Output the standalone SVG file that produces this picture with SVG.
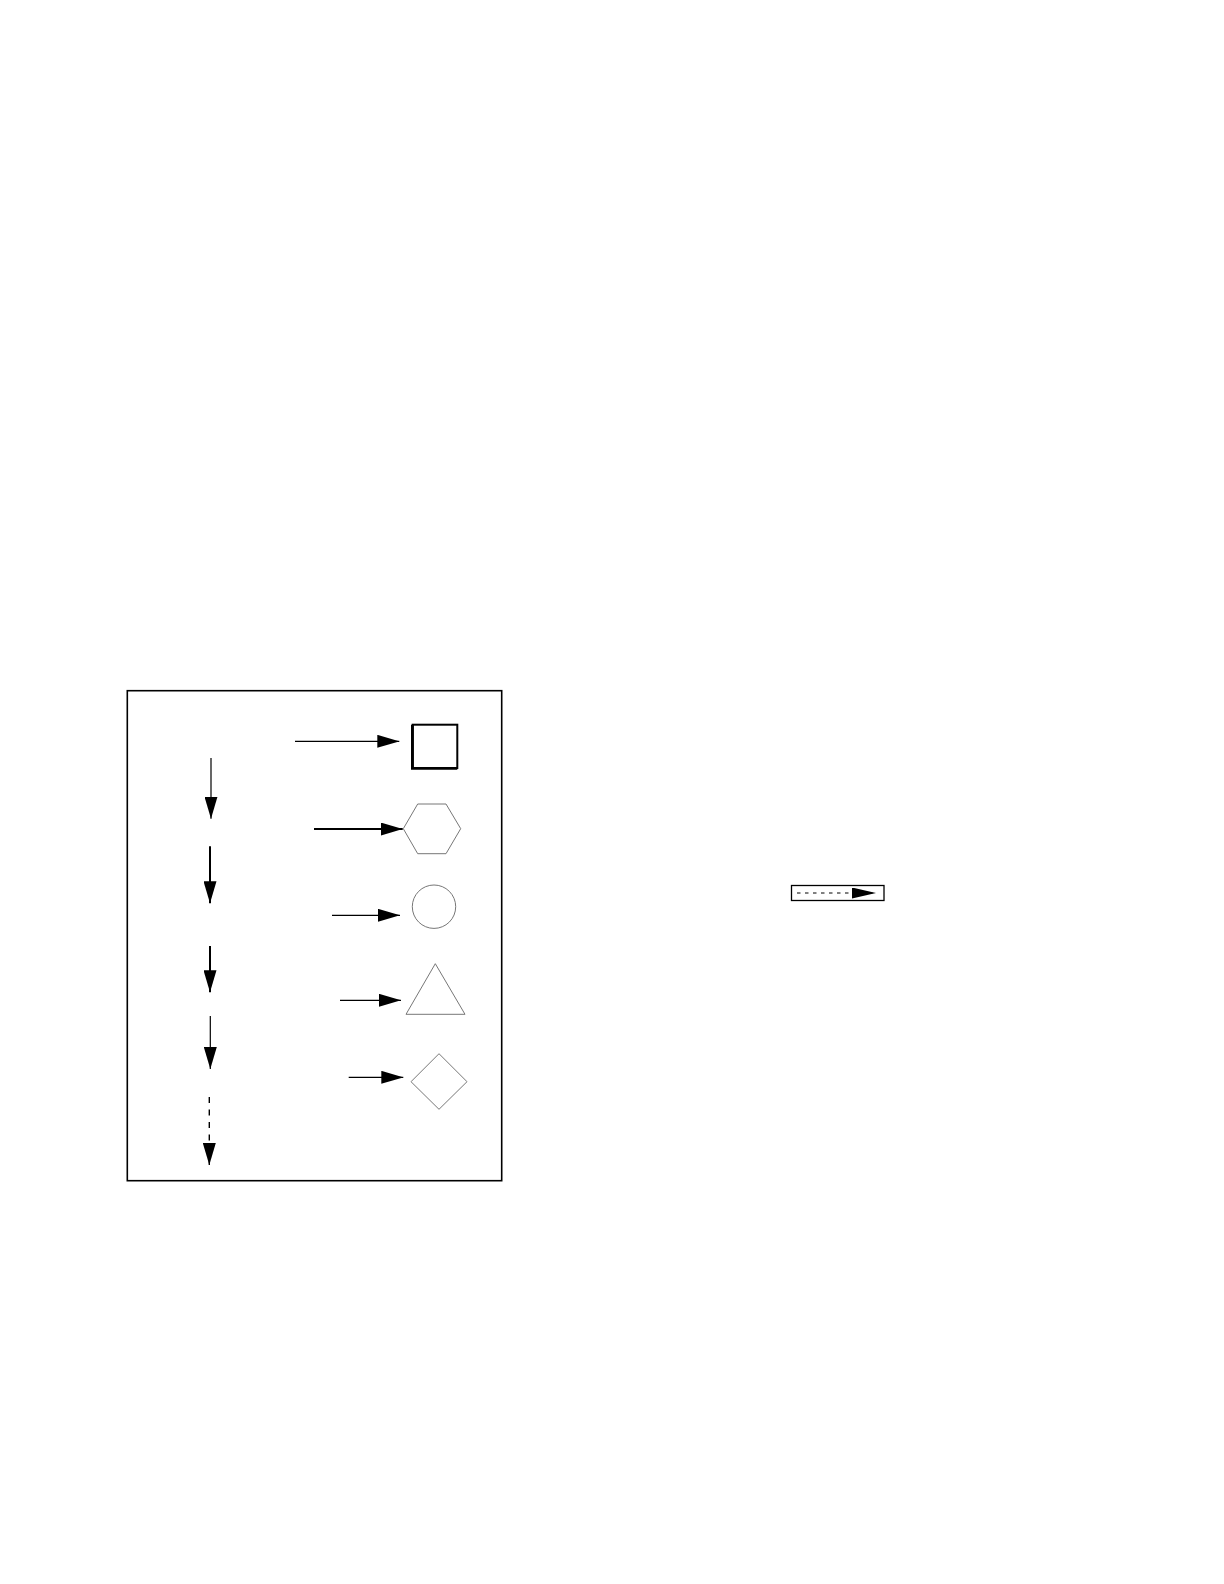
<svg xmlns="http://www.w3.org/2000/svg" width="1224" height="1584" viewBox="0 0 1224 1584">
  <style>
    .conn { stroke: #000; fill: none; }
    .thin { stroke-width: 1.2; }
    .thick { stroke-width: 2; }
    .shape { fill: #fff; stroke: #777; stroke-width: 1; }
  </style>
  <defs>
    <marker id="ah" markerUnits="userSpaceOnUse" markerWidth="22" markerHeight="13" refX="22" refY="6.5" orient="auto">
      <path d="M0,0 L22,6.5 L0,13 z" fill="#000"/>
    </marker>
    <marker id="ahs" markerUnits="userSpaceOnUse" markerWidth="24" markerHeight="11" refX="24" refY="5.5" orient="auto">
      <path d="M0,0 L24,5.5 L0,11 z" fill="#000"/>
    </marker>
  </defs>
  <rect width="1224" height="1584" fill="#fff"/>

  <g id="frame">
    <rect x="127.3" y="690.7" width="374.4" height="490" fill="none" stroke="#000" stroke-width="1.6"/>
  </g>

  <g id="node-square">
    <rect x="412.7" y="724.7" width="44.6" height="43.3" fill="#fff" stroke="#000" stroke-width="2"/>
    <path d="M412.4,724.7 V768.3 H457.3" fill="none" stroke="#000" stroke-width="2.8"/>
  </g>
  <g id="node-hexagon">
    <polygon class="shape" points="403.3,828.7 417.7,804 446,804 460.7,828.7 446,853.7 417.7,853.7"/>
  </g>
  <g id="node-circle">
    <circle class="shape" cx="434" cy="906.7" r="21.7"/>
  </g>
  <g id="node-triangle">
    <polygon class="shape" points="435.3,963.7 465,1014.3 406,1014.3"/>
  </g>
  <g id="node-diamond">
    <polygon class="shape" points="411,1081.7 439,1053.7 467,1081.7 439,1109.3"/>
  </g>

  <g id="legend">
    <rect x="791.5" y="885.5" width="92.5" height="15" fill="#fff" stroke="#000" stroke-width="1.3"/>
    <line x1="797" y1="893" x2="876" y2="893" stroke="#000" stroke-width="1" stroke-dasharray="3.5 4.5" marker-end="url(#ahs)"/>
  </g>

  <g id="connectors">
    <line class="conn thin" x1="295" y1="741.3" x2="399.3" y2="741.3" marker-end="url(#ah)"/>
    <line class="conn thick" x1="314" y1="829" x2="402.7" y2="829" marker-end="url(#ah)"/>
    <line class="conn thin" x1="332" y1="915.3" x2="400" y2="915.3" marker-end="url(#ah)"/>
    <line class="conn thin" x1="340" y1="1000.3" x2="401" y2="1000.3" marker-end="url(#ah)"/>
    <line class="conn thin" x1="348.7" y1="1077.3" x2="403.3" y2="1077.3" marker-end="url(#ah)"/>

    <line class="conn thin" x1="211" y1="758" x2="211" y2="818.7" marker-end="url(#ah)"/>
    <line class="conn thick" x1="210" y1="846.3" x2="210" y2="903.3" marker-end="url(#ah)"/>
    <line class="conn thick" x1="210" y1="946" x2="210" y2="992.3" marker-end="url(#ah)"/>
    <line class="conn thin" x1="210.3" y1="1016" x2="210.3" y2="1069" marker-end="url(#ah)"/>
    <line class="conn" x1="209.3" y1="1097" x2="209.3" y2="1165" stroke-width="1.4" stroke-dasharray="6 6.5" marker-end="url(#ah)"/>
  </g>
</svg>
